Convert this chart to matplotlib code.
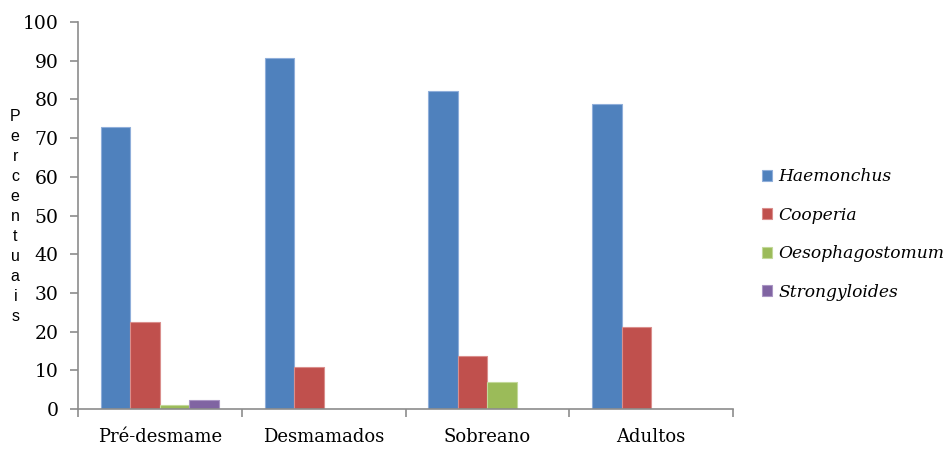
import matplotlib
matplotlib.use("Agg")
import matplotlib.pyplot as plt
import numpy as np

categories = ["Pré-desmame", "Desmamados", "Sobreano", "Adultos"]
series_names = ["Haemonchus", "Cooperia", "Oesophagostomum", "Strongyloides"]
haemonchus = [72.8, 90.8, 82.3, 78.8]
cooperia = [22.4, 10.8, 13.8, 21.2]
oesophagostomum = [1.0, 0.0, 6.9, 0.0]
strongyloides = [2.3, 0.0, 0.0, 0.0]
y_ticks = list(range(0, 101, 10))
y_label = "Percentuais"

series = [haemonchus, cooperia, oesophagostomum, strongyloides]
colors = ["#4F81BD", "#C0504D", "#9BBB59", "#8064A2"]
edges = ["#8FAEDA", "#DA8E8C", "#C3D99A", "#AA96C4"]

fig = plt.figure(figsize=(9.52, 4.49), dpi=100)
ax = fig.add_axes([0.082, 0.089, 0.688, 0.862])

x = np.arange(len(categories))
bw = 0.18
for i, (vals, name) in enumerate(zip(series, series_names)):
    offs = (i - 1.5) * bw
    ax.bar(x + offs, vals, width=bw, color=colors[i], edgecolor=edges[i],
           linewidth=0.8, label=name)

ax.set_xlim(-0.5, len(categories) - 0.5)
ax.set_ylim(0, 100)
ax.set_yticks(y_ticks)
ax.set_yticklabels([str(t) for t in y_ticks], family="DejaVu Serif", fontsize=13.5)

ax.set_xticks(x)
ax.set_xticklabels(categories, family="DejaVu Serif", fontsize=13)
ax.tick_params(axis="x", which="major", length=0, pad=14)
ax.set_xticks(np.arange(-0.5, len(categories)), minor=True)
ax.tick_params(axis="x", which="minor", length=6, width=1.2, color="#8C8C8C", direction="out")
ax.tick_params(axis="y", length=6, width=1.2, color="#8C8C8C", direction="out", pad=8)

for s in ["top", "right"]:
    ax.spines[s].set_visible(False)
for s in ["left", "bottom"]:
    ax.spines[s].set_color("#8C8C8C")
    ax.spines[s].set_linewidth(1.2)

fig.text(0.016, 0.518, "\n".join(y_label), family="Liberation Sans", fontsize=11.5,
         ha="center", va="center", linespacing=1.41)

leg = ax.legend(loc="center left", bbox_to_anchor=(1.044, 0.451), frameon=False,
                prop={"family": "DejaVu Serif", "style": "italic", "size": 12.3},
                handlelength=0.62, handleheight=0.62, handletextpad=0.35,
                labelspacing=1.26, borderaxespad=0, borderpad=0)

fig.savefig("out.png", dpi=100)
